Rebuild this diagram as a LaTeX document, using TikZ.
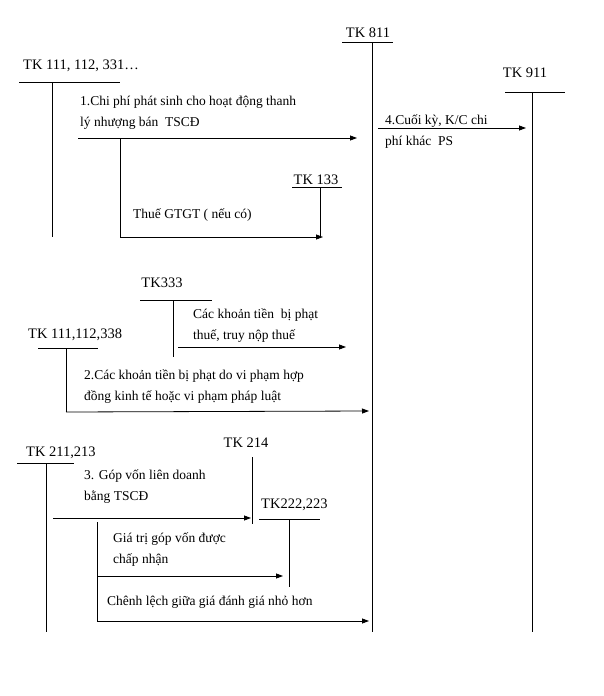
\documentclass[tikz,border=0pt]{standalone}
\usepackage{fontspec}
\setmainfont{Liberation Serif}
\usetikzlibrary{arrows.meta}
\begin{document}
\begin{tikzpicture}[x=1pt,y=-1pt,
  ln/.style={line width=0.8pt},
  ar/.style={line width=0.8pt,-{Triangle[length=7pt,width=5pt]}},
  t/.style={font=\fontsize{13.5}{21}\selectfont,inner sep=0pt,anchor=west,align=left},
  lb/.style={font=\fontsize{14.5}{16}\selectfont,inner sep=0pt}]
\useasboundingbox[fill=white] (0,0) rectangle (604,696);
% TK 811
\node[lb] (l811) at (368,33) {TK 811};
\draw[ln] (342,42) -- (393,42);
\coordinate (a811) at (372,42); \coordinate (b811) at (372,632);
\draw[ln] (a811) -- (b811);
% TK 911
\node[lb] (l911) at (525,73) {TK 911};
\draw[ln] (505,92) -- (565,92);
\coordinate (a911) at (532,92); \coordinate (b911) at (532,632);
\draw[ln] (a911) -- (b911);
% TK 111,112,331
\node[lb,anchor=west] (l111) at (23,66) {TK 111, 112, 331…};
\draw[ln] (19,82) -- (120,82);
\coordinate (a111) at (52,82); \coordinate (b111) at (52,237);
\draw[ln] (a111) -- (b111);
\coordinate (s1) at (78,138); \coordinate (e1) at (357,138);
\draw[ar] (s1) -- (e1);
\node[t] (t1) at (80,113) {1.Chi phí phát sinh cho hoạt động thanh\\lý nhượng bán\ \ TSCĐ};
\coordinate (s1b) at (120,138); \coordinate (e1b) at (323,237);
\draw[ar] (s1b) |- (e1b);
\node[lb] (l133) at (316,180) {TK 133};
\draw[ln] (292,187) -- (342,187);
\coordinate (a133) at (320,187); \coordinate (b133) at (320,237);
\draw[ln] (a133) -- (b133);
\node[t] (t1b) at (133,215) {Thuế GTGT ( nếu có)};
% arrow 4
\coordinate (s4) at (378,128); \coordinate (e4) at (526,128);
\draw[ar] (s4) -- (e4);
\node[t] (t4) at (385,132) {4.Cuối kỳ, K/C chi\\phí khác\ \ PS};
% TK333
\node[lb] (l333) at (162,283) {TK333};
\draw[ln] (140,300) -- (212,300);
\coordinate (a333) at (173,300); \coordinate (b333) at (173,357);
\draw[ln] (a333) -- (b333);
\coordinate (s5) at (178,347); \coordinate (e5) at (346,347);
\draw[ar] (s5) -- (e5);
\node[t] (t5) at (193,326) {Các khoản tiền\ \ bị phạt\\thuế, truy nộp thuế};
% TK 111,112,338
\node[lb,anchor=west] (l338) at (28,335) {TK 111,112,338};
\draw[ln] (38,348) -- (98,348);
\coordinate (a338) at (66,348); \coordinate (b338) at (66,412);
\draw[ln] (a338) -- (b338);
\coordinate (e2) at (369,411);
\draw[ar] (b338) -- (e2);
\node[t] (t2) at (84,387) {2.Các khoản tiền bị phạt do vi phạm hợp\\đồng kinh tế hoặc vi phạm pháp luật};
% TK 211,213
\node[lb,anchor=west] (l211) at (26,453) {TK 211,213};
\draw[ln] (17,463) -- (74,463);
\coordinate (a211) at (46,463); \coordinate (b211) at (46,632);
\draw[ln] (a211) -- (b211);
\node[lb] (l214) at (246,443) {TK 214};
\coordinate (a214) at (252,457); \coordinate (b214) at (252,524);
\draw[ln] (a214) -- (b214);
\coordinate (s3) at (53,518); \coordinate (e3) at (251,518);
\draw[ar] (s3) -- (e3);
\node[t] (t3) at (84,487) {3. Góp vốn liên doanh\\bằng TSCĐ};
% TK222,223
\node[lb,anchor=west] (l222) at (261,505) {TK222,223};
\draw[ln] (259,519) -- (320,519);
\coordinate (a222) at (289,519); \coordinate (b222) at (289,587);
\draw[ln] (a222) -- (b222);
\coordinate (s6) at (97,522); \coordinate (e6) at (283,576);
\draw[ar] (s6) |- (e6);
\node[t] (t6) at (113,550) {Giá trị góp vốn được\\chấp nhận};
\coordinate (e7) at (369,621);
\draw[ar] (97,576) |- (e7);
\node[t] (t7) at (107,602) {Chênh lệch giữa giá đánh giá nhỏ hơn};
\end{tikzpicture}
\end{document}
